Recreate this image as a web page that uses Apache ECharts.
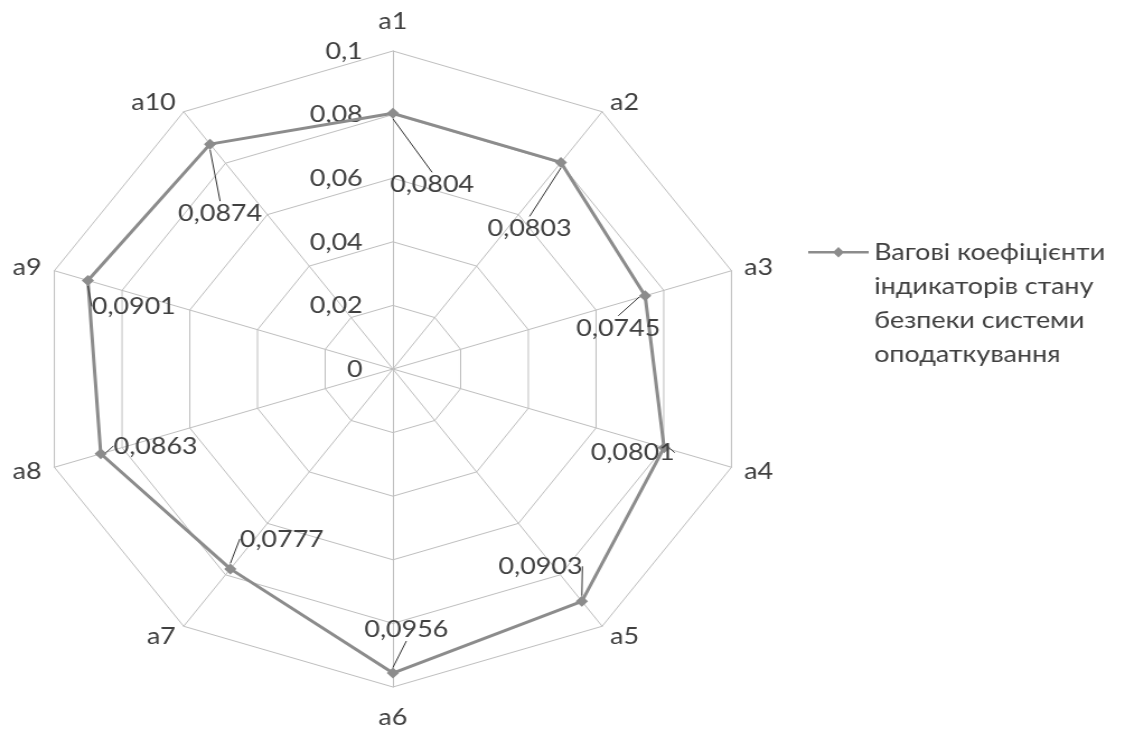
<!DOCTYPE html>
<html>
<head>
<meta charset="utf-8">
<script src="https://cdn.jsdelivr.net/npm/echarts@6/dist/echarts.min.js"></script>
<style>
  html, body { margin: 0; padding: 0; background: #fff; overflow: hidden; }
  #wrap { width: 1125px; height: 731px; overflow: hidden; }
  #chart { width: 1005px; height: 731px; transform: scaleX(1.1194); transform-origin: 0 0; }
</style>
</head>
<body>
<div id="wrap"><div id="chart"></div></div>
<script>
// ---- data ----
const categories = ['a1', 'a2', 'a3', 'a4', 'a5', 'a6', 'a7', 'a8', 'a9', 'a10'];
const values = [0.0804, 0.0803, 0.0745, 0.0801, 0.0903, 0.0956, 0.0777, 0.0863, 0.0901, 0.0874];
const axisMin = 0;
const axisMax = 0.1;
const axisSplits = 5;
const seriesName = 'Вагові коефіцієнти індикаторів стану безпеки системи оподаткування';
const legendLines = ['Вагові коефіцієнти', 'індикаторів стану', 'безпеки системи', 'оподаткування'];

// ---- label placement (style, px) ----
const labelShift = [[35, 71], [-28, 66], [-24, 32], [-28, 5], [-37, -35], [12, -44], [46, -30], [49, -8], [41, 26], [9, 69]];

// radar draws counter-clockwise: feed a1 first, then the rest reversed so a2.. run clockwise
const order = categories.map((c, i) => (i === 0 ? 0 : categories.length - i));

const fmt = v => String(+(+v).toFixed(4)).replace('.', ',');
const textToIndex = {};
values.forEach((v, i) => { textToIndex[fmt(v)] = i; });

const FONT = 'Lato';
const TXT = '#404040';
const GRID = '#bfbfbf';
const LINE = '#8c8c8c';
const FS = 24;

const chart = echarts.init(document.getElementById('chart'), null, { renderer: 'canvas' });
chart.setOption({
  animation: false,
  backgroundColor: '#fff',
  textStyle: { fontFamily: FONT },
  legend: {
    left: 717,
    top: 230,
    data: [{
      name: seriesName,
      icon: 'path://M0,4 L54,4 L54,6.6 L0,6.6 Z M27,0 L32,5.3 L27,10.6 L22,5.3 Z M27,111.98 L27.02,112 L27,112 Z'
    }],
    itemWidth: 54,
    itemHeight: 112,
    selectedMode: false,
    formatter: () => legendLines.join('\n'),
    textStyle: { fontFamily: FONT, fontSize: FS, color: TXT, lineHeight: 34 }
  },
  radar: {
    center: [351, 369],
    radius: 318,
    startAngle: 90,
    shape: 'polygon',
    splitNumber: axisSplits,
    indicator: order.map((idx, k) => {
      const o = { name: categories[idx], min: axisMin, max: axisMax };
      if (k === 0) o.axisLabel = { show: true };
      return o;
    }),
    axisName: { color: TXT, fontSize: FS, fontFamily: FONT, padding: [6, 0, 6, 0] },
    nameGap: 12,
    axisLine: { show: true, lineStyle: { color: GRID, width: 1 } },
    splitLine: { show: true, lineStyle: { color: GRID, width: 1 } },
    splitArea: { show: false },
    axisTick: { show: false },
    axisLabel: {
      show: false,
      color: TXT,
      fontSize: FS,
      fontFamily: FONT,
      margin: 27,
      formatter: v => fmt(v)
    }
  },
  series: [{
    type: 'radar',
    name: seriesName,
    symbol: 'diamond',
    symbolSize: 11,
    itemStyle: { color: LINE },
    lineStyle: { color: LINE, width: 3 },
    label: {
      show: true,
      position: 'inside',
      color: TXT,
      fontSize: FS,
      fontFamily: FONT,
      formatter: p => fmt(p.value)
    },
    labelLine: { show: true, lineStyle: { color: '#333', width: 1 } },
    labelLayout: p => {
      const i = textToIndex[p.text];
      if (i === undefined) return {};
      return { dx: labelShift[i][0], dy: labelShift[i][1] };
    },
    data: [{ name: seriesName, value: order.map(idx => values[idx]) }]
  }]
});
</script>
</body>
</html>
